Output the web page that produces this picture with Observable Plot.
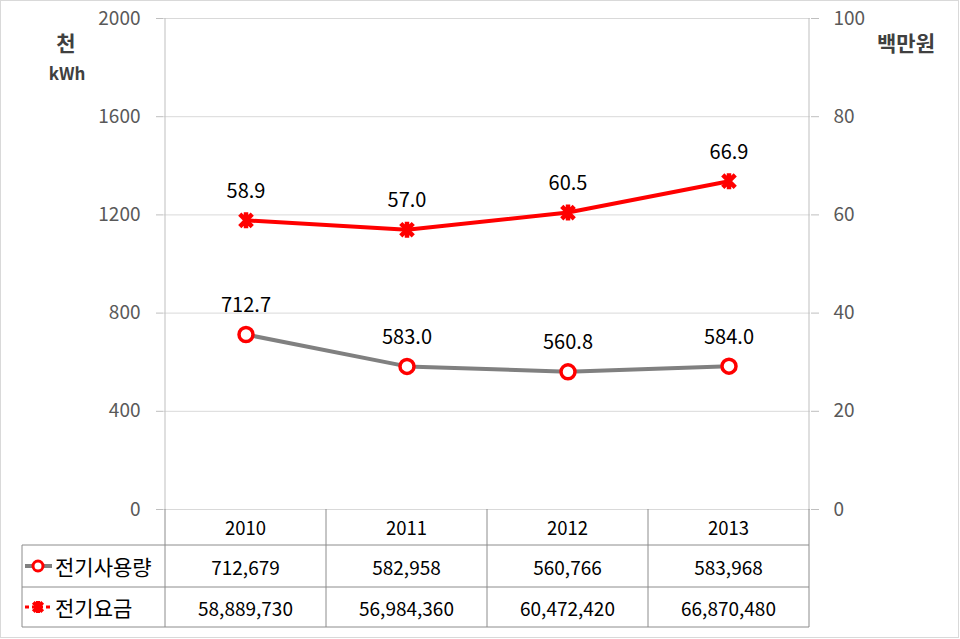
<!DOCTYPE html>
<html>
<head>
<meta charset="utf-8">
<script src="https://cdn.jsdelivr.net/npm/d3@7"></script>
<script src="https://cdn.jsdelivr.net/npm/@observablehq/plot@0.6"></script>
<style>
  html, body { margin: 0; padding: 0; background: white; }
</style>
</head>
<body>
<div id="chart"></div>
<script>
const years = ["2010", "2011", "2012", "2013"];
const usageKWh = [712679, 582958, 560766, 583968];      // 전기사용량
const costWon = [58889730, 56984360, 60472420, 66870480]; // 전기요금
const leftTicks = [0, 400, 800, 1200, 1600, 2000];
const rightTicks = [0, 20, 40, 60, 80, 100];
const seriesNames = ["전기사용량", "전기요금"];
const leftTitle = ["천", "kWh"];
const rightTitle = "백만원";

const ratio = 2000 / 100; // left domain / right domain
const usage = years.map((y, i) => ({year: y, v: usageKWh[i] / 1000}));
const cost = years.map((y, i) => ({year: y, v: costWon[i] / 1e6}));

const starSymbol = {
  draw(ctx, size) {
    const r = Math.sqrt(size / Math.PI);
    const d = r * 0.78;
    ctx.moveTo(-d, -d); ctx.lineTo(d, d);
    ctx.moveTo(d, -d); ctx.lineTo(-d, d);
    ctx.moveTo(0, -r); ctx.lineTo(0, r);
  }
};

const font = "'Noto Sans CJK KR', 'Noto Sans', sans-serif";

const chart = Plot.plot({
  width: 960,
  height: 639,
  marginLeft: 163,
  marginRight: 150,
  marginTop: 18,
  marginBottom: 130,
  style: {fontFamily: font, background: "white", overflow: "visible"},
  x: {type: "band", domain: years, padding: 0, axis: null},
  y: {domain: [0, 2000]},
  marks: [
    Plot.gridY(leftTicks, {stroke: "#d9d9d9", strokeOpacity: 1}),
    Plot.axisY(leftTicks, {anchor: "left", tickSize: 7, tickPadding: 16, fontSize: 19, fill: "#595959", stroke: "#bfbfbf", strokeOpacity: 1, tickFormat: d => String(d), label: null}),
    Plot.axisY(rightTicks.map(v => v * ratio), {anchor: "right", tickSize: 8, tickPadding: 15, fontSize: 19, fill: "#595959", stroke: "#bfbfbf", strokeOpacity: 1, tickFormat: d => String(d / ratio), label: null}),
    Plot.line(usage, {x: "year", y: "v", stroke: "#808080", strokeWidth: 4}),
    Plot.line(cost, {x: "year", y: d => d.v * ratio, stroke: "#ff0000", strokeWidth: 4}),
    Plot.dot(usage, {x: "year", y: "v", r: 7, stroke: "#ff0000", strokeWidth: 3.5, fill: "white"}),
    Plot.dot(cost, {x: "year", y: d => d.v * ratio, r: 8, symbol: starSymbol, stroke: "#ff0000", strokeWidth: 4.5}),
    Plot.text(usage, {x: "year", y: "v", text: d => d.v.toFixed(1), dy: -29, fontSize: 20, fill: "#000"}),
    Plot.text(cost, {x: "year", y: d => d.v * ratio, text: d => d.v.toFixed(1), dy: -29, fontSize: 20, fill: "#000"})
  ]
});

document.getElementById("chart").appendChild(chart);

const svg = d3.select(chart);
const sx = chart.scale("x");
const sy = chart.scale("y");
const bw = sx.bandwidth;
const xLeft = sx.apply(years[0]);
const xRight = sx.apply(years[years.length - 1]) + bw;
const yTop = sy.apply(2000);
const y0 = sy.apply(0);

// axis lines
svg.append("line").attr("x1", xLeft).attr("x2", xLeft).attr("y1", yTop).attr("y2", y0).attr("stroke", "#bfbfbf");
svg.append("line").attr("x1", xRight).attr("x2", xRight).attr("y1", yTop).attr("y2", y0).attr("stroke", "#bfbfbf");

// axis titles
const g = svg.append("g").attr("font-family", font).attr("fill", "#404040").attr("font-weight", "bold").attr("text-anchor", "middle");
g.append("text").attr("x", 66).attr("y", 42).attr("dominant-baseline", "central").attr("font-size", 21).text(leftTitle[0]);
g.append("text").attr("x", 67).attr("y", 72).attr("dominant-baseline", "central").attr("font-size", 17).text(leftTitle[1]);
g.append("text").attr("x", 906).attr("y", 42).attr("dominant-baseline", "central").attr("font-size", 21).text(rightTitle);

// data table
const tableStroke = "#8c8c8c";
const legLeft = 22;
const rowH = [36, 42, 40];
const r1 = y0 + rowH[0], r2 = r1 + rowH[1], r3 = r2 + rowH[2];
const t = svg.append("g").attr("font-family", font);
[r1, r2, r3].forEach(yy => t.append("line").attr("x1", legLeft).attr("x2", xRight).attr("y1", yy).attr("y2", yy).attr("stroke", tableStroke));
t.append("line").attr("x1", legLeft).attr("x2", legLeft).attr("y1", r1).attr("y2", r3).attr("stroke", tableStroke);
years.forEach(y => {
  const x = sx.apply(y);
  t.append("line").attr("x1", x).attr("x2", x).attr("y1", y0).attr("y2", r3).attr("stroke", tableStroke);
});
t.append("line").attr("x1", xRight).attr("x2", xRight).attr("y1", y0).attr("y2", r3).attr("stroke", tableStroke);

const fmt = d3.format(",");
years.forEach((y, i) => {
  const cx = sx.apply(y) + bw / 2;
  t.append("text").attr("x", cx).attr("y", (y0 + r1) / 2).attr("text-anchor", "middle").attr("dominant-baseline", "central").attr("font-size", 18.5).attr("fill", "#000").text(y);
  t.append("text").attr("x", cx).attr("y", (r1 + r2) / 2).attr("text-anchor", "middle").attr("dominant-baseline", "central").attr("font-size", 19).attr("fill", "#000").text(fmt(usageKWh[i]));
  t.append("text").attr("x", cx).attr("y", (r2 + r3) / 2).attr("text-anchor", "middle").attr("dominant-baseline", "central").attr("font-size", 19).attr("fill", "#000").text(fmt(costWon[i]));
});

// legend keys
const ky1 = (r1 + r2) / 2, ky2 = (r2 + r3) / 2;
t.append("line").attr("x1", 25).attr("x2", 52).attr("y1", ky1).attr("y2", ky1).attr("stroke", "#808080").attr("stroke-width", 4);
t.append("circle").attr("cx", 38).attr("cy", ky1).attr("r", 5).attr("fill", "white").attr("stroke", "#ff0000").attr("stroke-width", 3);
t.append("line").attr("x1", 25).attr("x2", 52).attr("y1", ky2).attr("y2", ky2).attr("stroke", "#ff0000").attr("stroke-width", 3).attr("stroke-dasharray", "4,3");
t.append("path").attr("d", d3.symbol(starSymbol, Math.PI * 36)()).attr("transform", `translate(38,${ky2})`).attr("stroke", "#ff0000").attr("stroke-width", 4).attr("fill", "none");
t.append("text").attr("x", 55).attr("y", ky1).attr("text-anchor", "start").attr("dominant-baseline", "central").attr("font-size", 21).attr("fill", "#000").text(seriesNames[0]);
t.append("text").attr("x", 55).attr("y", ky2).attr("text-anchor", "start").attr("dominant-baseline", "central").attr("font-size", 21).attr("fill", "#000").text(seriesNames[1]);

// outer border
svg.append("rect").attr("x", 0.5).attr("y", 0.5).attr("width", 958).attr("height", 637).attr("fill", "none").attr("stroke", "#d9d9d9");
</script>
</body>
</html>
